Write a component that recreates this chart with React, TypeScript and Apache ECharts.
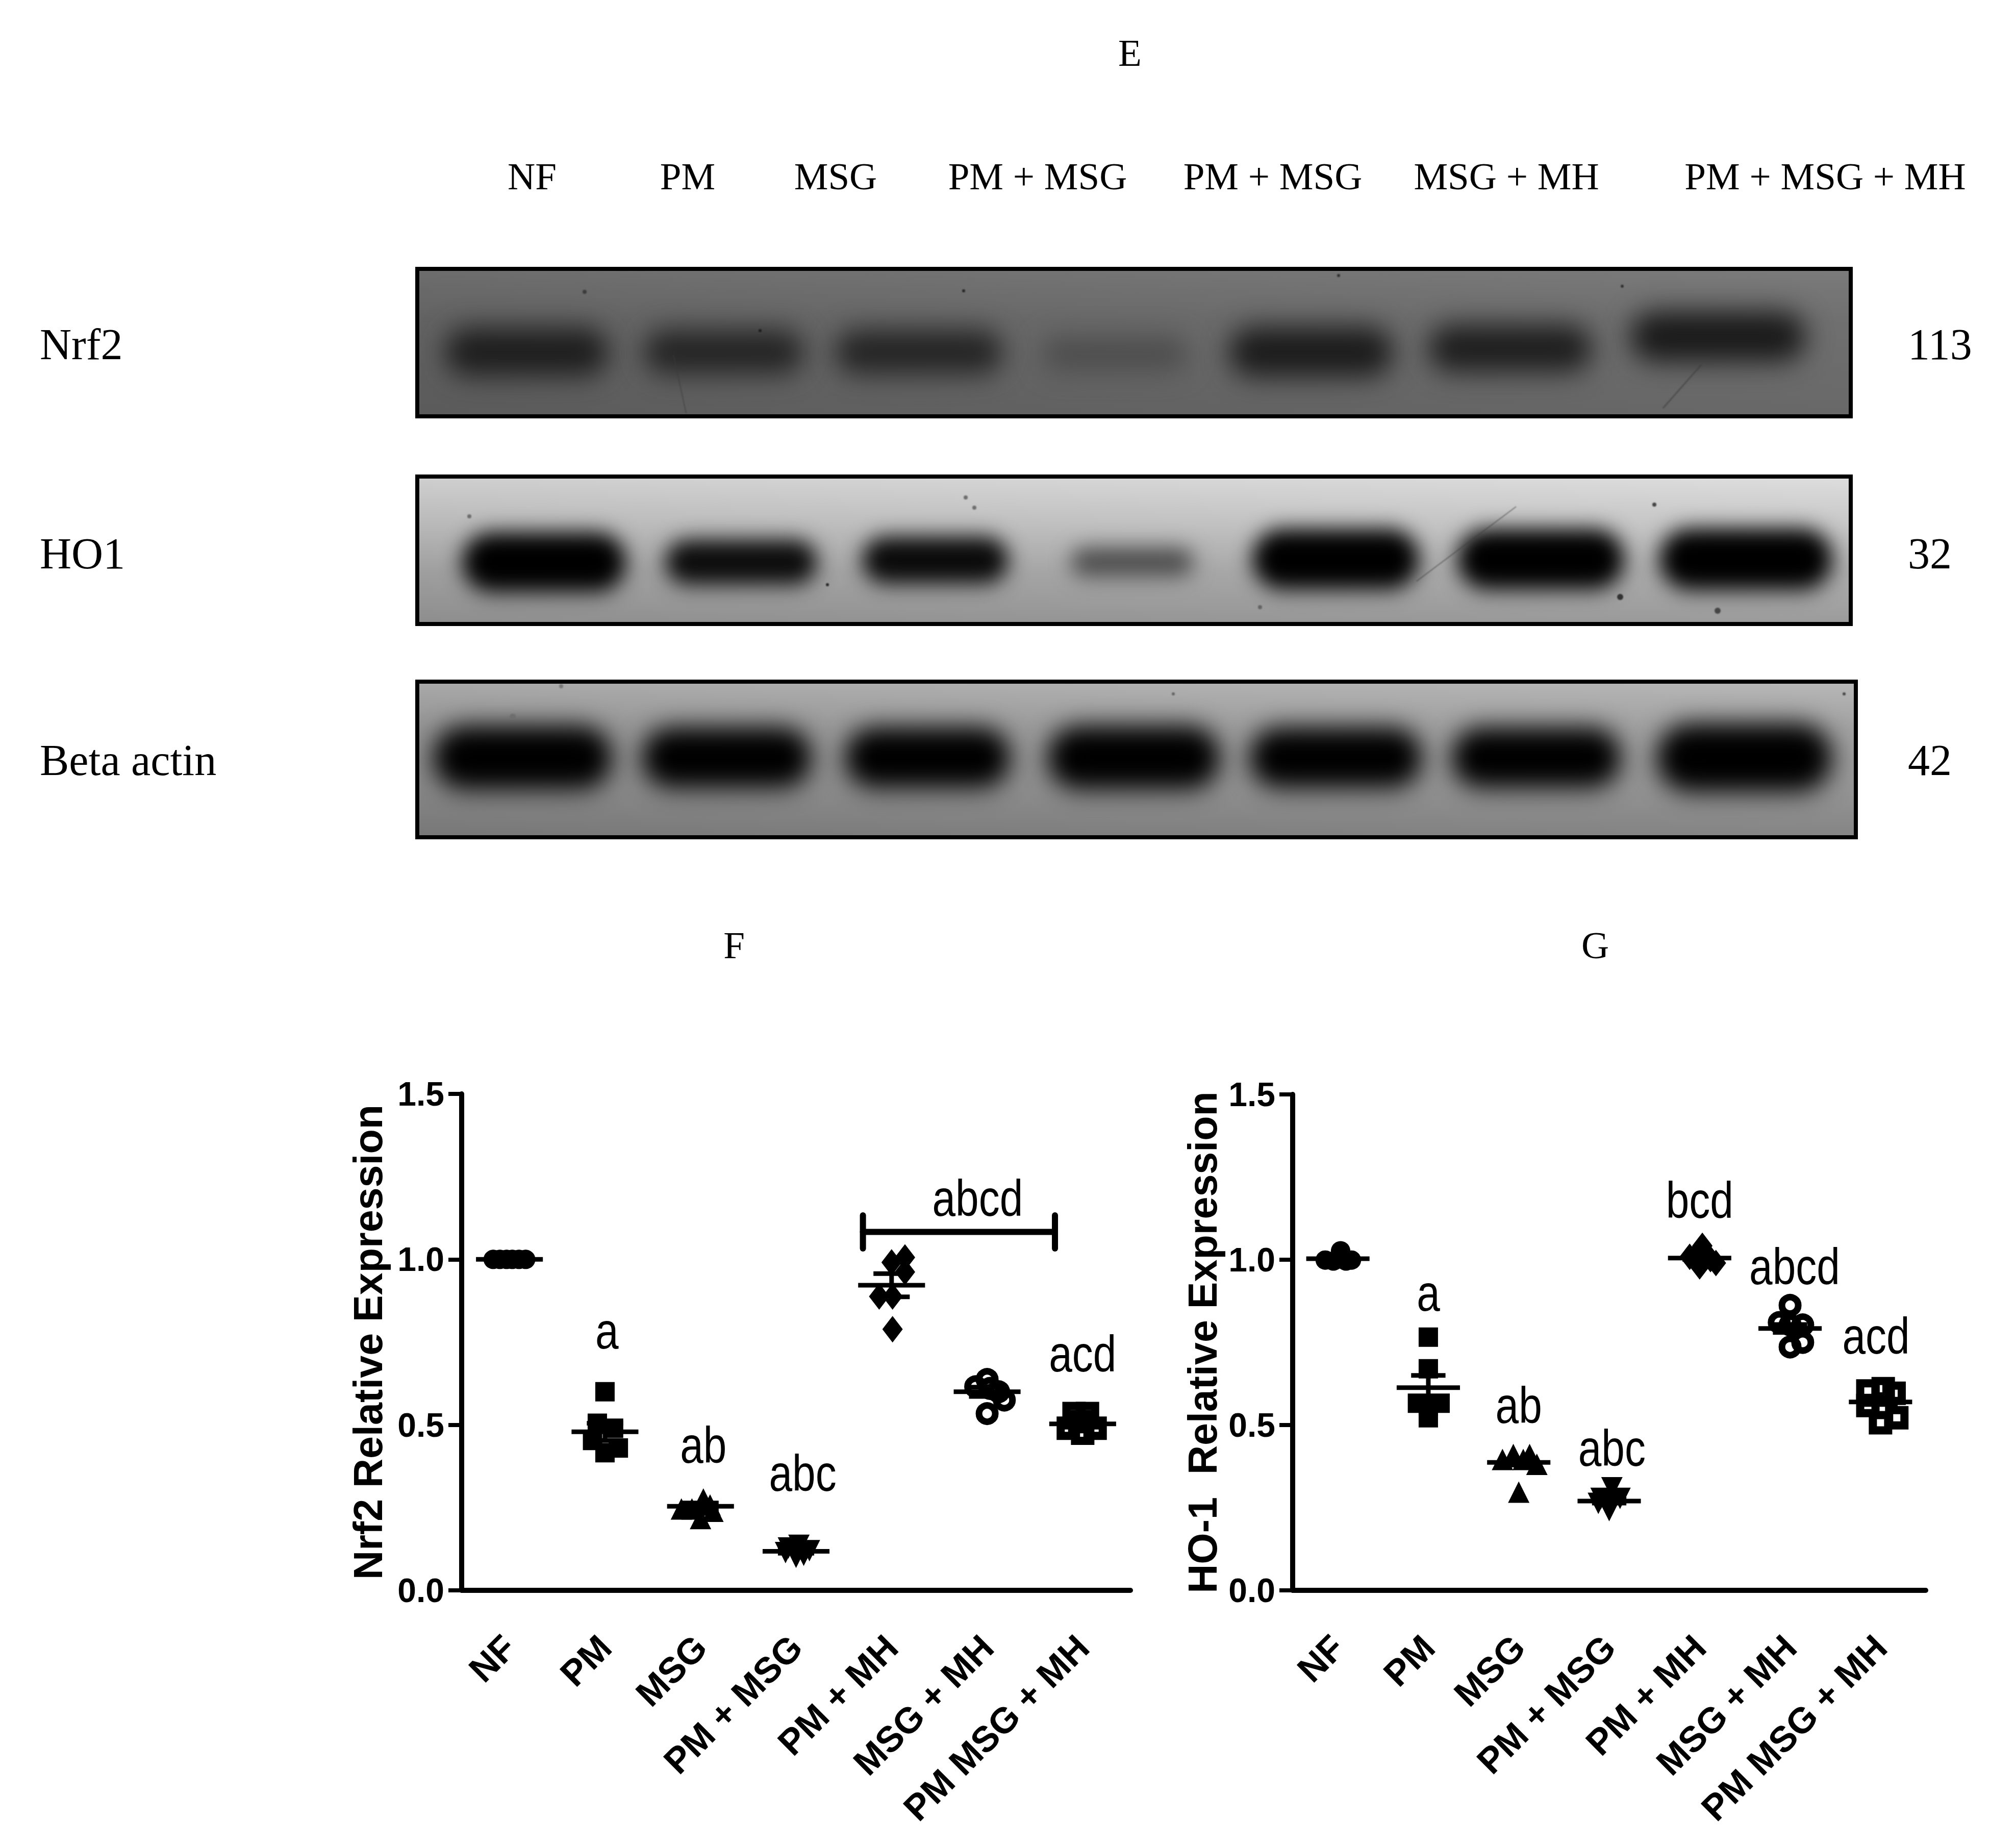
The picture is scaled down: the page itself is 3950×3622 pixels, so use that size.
import React, { useEffect, useRef } from "react";
import * as echarts from "echarts";

const categories = ["NF", "PM", "MSG", "PM + MSG", "PM + MH", "MSG + MH", "PM MSG + MH"];
const yTicks = [0, 0.5, 1, 1.5];

// Panel F : Nrf2
const nrf2Values = [
  [1, 1, 1, 1, 1, 1],
  [0.6, 0.505, 0.49, 0.453, 0.43, 0.416],
  [0.276, 0.246, 0.239, 0.246, 0.217, 0.258],
  [0.136, 0.128, 0.12, 0.1, 0.114, 0.106],
  [1.006, 0.991, 0.962, 0.888, 0.888, 0.789],
  [0.637, 0.615, 0.6, 0.61, 0.575, 0.534],
  [0.534, 0.534, 0.49, 0.49, 0.475, 0.51],
];
const nrf2Jitter = [
  [-0.17, -0.1, -0.03, 0.03, 0.1, 0.17],
  [0, -0.08, 0.09, -0.13, 0.14, 0],
  [0.03, -0.09, 0.13, -0.2, 0, 0.1],
  [0.03, -0.08, 0.14, 0, -0.11, 0.08],
  [0.14, 0, 0.14, -0.13, 0.01, 0.01],
  [0, -0.12, 0.12, 0.03, 0.18, 0],
  [-0.09, 0.05, -0.15, 0.13, 0, -0.03],
];
const nrf2Means = [1, 0.479, 0.254, 0.118, 0.922, 0.6, 0.503];
const nrf2Sem = [0, 0.026, 0.01, 0.006, 0.035, 0.014, 0.01];
const nrf2Letters = [
  [1.02, 0.785, "a"], [2.03, 0.44, "ab"], [3.07, 0.355, "abc"], [4.9, 1.185, "abcd"], [6, 0.715, "acd"],
];
const nrf2Bracket = [3.7, 5.71, 1.083, 0.05];

// Panel G : HO-1
const ho1Values = [
  [1.002, 0.999, 0.999, 1.027, 0.996, 0.996],
  [0.766, 0.67, 0.566, 0.566, 0.522, 0.558],
  [0.411, 0.411, 0.396, 0.396, 0.381, 0.297],
  [0.31, 0.278, 0.278, 0.241, 0.263, 0.263],
  [1.042, 1.009, 1.002, 0.98, 1.012, 0.99],
  [0.862, 0.81, 0.803, 0.803, 0.75, 0.736],
  [0.603, 0.61, 0.596, 0.559, 0.507, 0.522],
];
const ho1Jitter = [
  [0, -0.14, 0.15, 0.03, -0.05, 0.09],
  [0, 0, -0.12, 0.13, 0, 0],
  [-0.06, 0.12, -0.18, 0.05, 0.2, 0],
  [0.03, -0.09, 0.12, 0, -0.12, 0.03],
  [0.03, -0.11, 0.12, 0, -0.05, 0.18],
  [0, -0.12, 0, 0.14, 0.14, 0],
  [-0.14, 0.03, 0.15, -0.14, 0, 0.18],
];
const ho1Means = [1.003, 0.613, 0.387, 0.27, 1.005, 0.792, 0.57];
const ho1Sem = [0, 0.037, 0.008, 0.006, 0.004, 0.012, 0.008];
const ho1Letters = [
  [1, 0.9, "a"], [2, 0.56, "ab"], [3.03, 0.43, "abc"], [4, 1.18, "bcd"], [5.05, 0.98, "abcd"], [5.95, 0.77, "acd"],
];

// Western-blot rows, drawn into images. Each band: [left, right, centre y, height, grey]
const nrf2Bands = [
  [872, 1193, 690, 94, 30], [1262, 1576, 690, 86, 36], [1637, 1966, 690, 86, 36], [2042, 2329, 694, 64, 76],
  [2409, 2731, 690, 98, 28], [2800, 3121, 683, 92, 30], [3196, 3540, 660, 98, 26],
];
const ho1Bands = [
  [906, 1227, 1102, 116, 0], [1304, 1602, 1102, 88, 12], [1690, 1977, 1098, 92, 10], [2099, 2340, 1102, 56, 76],
  [2455, 2782, 1096, 118, 0], [2857, 3184, 1096, 118, 0], [3253, 3592, 1096, 120, 0],
];
const actinBands = [
  [849, 1200, 1485, 124, 0], [1258, 1591, 1485, 118, 0], [1656, 1981, 1485, 118, 0], [2053, 2392, 1485, 124, 0],
  [2449, 2788, 1485, 118, 0], [2845, 3178, 1485, 118, 0], [3247, 3592, 1485, 134, 0],
];
const specks = [
  [1146, 572, 4, 60], [1490, 648, 3, 30], [1889, 570, 3, 40], [2624, 540, 3, 50], [3176, 820, 4, 40], [3180, 561, 3, 50],
  [920, 1012, 4, 110], [1622, 1146, 3, 40], [1893, 975, 4, 110], [1910, 995, 4, 110], [3176, 1170, 6, 50], [3367, 1197, 6, 70],
  [3243, 989, 4, 70], [2470, 1190, 4, 100], [1005, 1405, 6, 110], [1100, 1345, 4, 120], [2300, 1360, 3, 100], [3615, 1360, 3, 70],
];
const scratches = [
  [2777, 1139, 2972, 993, 2, 60], [1320, 695, 1345, 810, 2, 60], [3260, 800, 3335, 715, 3, 60],
];

const SANS = "Liberation Sans";
const SERIF = "Liberation Serif";

function blotImage(x0: number, y0: number, w: number, h: number, stops: [number, string][], bands: number[][], blur: number) {
  const c = document.createElement("canvas");
  c.width = w;
  c.height = h;
  const g = c.getContext("2d")!;
  const lg = g.createLinearGradient(0, 0, 0, h);
  stops.forEach(([o, col]) => lg.addColorStop(o, col));
  g.fillStyle = lg;
  g.fillRect(0, 0, w, h);
  const hg = g.createLinearGradient(0, 0, w, 0);
  hg.addColorStop(0, "rgba(0,0,0,0.06)");
  hg.addColorStop(1, "rgba(255,255,255,0.05)");
  g.fillStyle = hg;
  g.fillRect(0, 0, w, h);
  g.filter = `blur(${blur}px)`;
  bands.forEach(([l, r, cy, bh, grey]) => {
    g.fillStyle = `rgb(${grey},${grey},${grey})`;
    g.beginPath();
    g.roundRect(l - x0, cy - y0 - bh / 2, r - l, bh, bh / 2);
    g.fill();
  });
  g.filter = "blur(1px)";
  specks.forEach(([sx, sy, r, grey]) => {
    if (sx < x0 || sx > x0 + w || sy < y0 || sy > y0 + h) return;
    g.fillStyle = `rgb(${grey},${grey},${grey})`;
    g.beginPath();
    g.arc(sx - x0, sy - y0, r, 0, Math.PI * 2);
    g.fill();
  });
  scratches.forEach(([a, b, cc, d, lw, grey]) => {
    if (b < y0 || b > y0 + h) return;
    g.strokeStyle = `rgba(${grey},${grey},${grey},0.55)`;
    g.lineWidth = lw;
    g.beginPath();
    g.moveTo(a - x0, b - y0);
    g.lineTo(cc - x0, d - y0);
    g.stroke();
  });
  return c.toDataURL("image/png");
}

const FRAMES = [
  { x: 818, y: 527, w: 2810, h: 289, stops: [[0, "#747474"], [0.35, "#686868"], [1, "#606060"]] as [number, string][], bands: nrf2Bands, blur: 26 },
  { x: 818, y: 934, w: 2810, h: 289, stops: [[0, "#dcdcdc"], [0.3, "#c6c6c6"], [0.65, "#a8a8a8"], [1, "#969696"]] as [number, string][], bands: ho1Bands, blur: 20 },
  { x: 818, y: 1336, w: 2820, h: 305, stops: [[0, "#b4b4b4"], [0.3, "#9c9c9c"], [0.7, "#8e8e8e"], [1, "#7e7e7e"]] as [number, string][], bands: actinBands, blur: 24 },
];

const plainTexts: [string, number, number][] = [
  ["E", 2215, 103], ["NF", 1043, 345], ["PM", 1348, 345], ["MSG", 1638, 345], ["PM + MSG", 2034, 345],
  ["PM + MSG", 2495, 345], ["MSG + MH", 2953, 345], ["PM + MSG + MH", 3578, 345], ["F", 1439, 1852], ["G", 3127, 1852],
];
const sideTexts: [string, number, number][] = [
  ["Nrf2", 78, 675], ["HO1", 78, 1085], ["Beta actin", 78, 1490], ["113", 3740, 675], ["32", 3740, 1085], ["42", 3740, 1490],
];

const symbols = ["circle", "rect", "triangle", "triangle", "diamond", "circle", "rect"];
const rotations = [0, 0, 0, 180, 0, 0, 0];
const sizes: (number | number[])[] = [38, 38, 42, 42, [40, 52], 32, 30];
const hollowBorders = [0, 0, 0, 0, 0, 13, 16];

function panelSeries(xVal: number, yIdx: number, values: number[][], jitter: number[][], means: number[], sem: number[], letters: any[], bracket?: number[]) {
  const out: any[] = [];
  values.forEach((vals, i) => {
    out.push({
      type: "scatter",
      xAxisIndex: xVal,
      yAxisIndex: yIdx,
      symbol: symbols[i],
      symbolRotate: rotations[i],
      symbolSize: sizes[i],
      itemStyle: hollowBorders[i]
        ? { color: "rgba(0,0,0,0)", borderColor: "#000", borderWidth: hollowBorders[i], opacity: 1 }
        : { color: "#000", opacity: 1 },
      data: vals.map((v, k) => [i + jitter[i][k], v]),
      silent: true,
    });
  });
  out.push({
    type: "custom",
    xAxisIndex: xVal,
    yAxisIndex: yIdx,
    clip: false,
    silent: true,
    data: means.map((m, i) => [i, m, sem[i]]),
    renderItem: (_: any, api: any) => {
      const x = api.value(0), m = api.value(1), s = api.value(2);
      const seg = (a: number, b: number, c: number, d: number) => {
        const p = api.coord([a, b]), q = api.coord([c, d]);
        return { type: "line", shape: { x1: p[0], y1: p[1], x2: q[0], y2: q[1] }, style: { stroke: "#000", lineWidth: 9 } };
      };
      const children: any[] = [seg(x - 0.35, m, x + 0.35, m)];
      if (s > 0) {
        children.push(seg(x, m - s, x, m + s), seg(x - 0.19, m + s, x + 0.19, m + s), seg(x - 0.19, m - s, x + 0.19, m - s));
      }
      return { type: "group", children };
    },
  });
  if (bracket) {
    out.push({
      type: "custom",
      xAxisIndex: xVal,
      yAxisIndex: yIdx,
      clip: false,
      silent: true,
      data: [bracket],
      renderItem: (_: any, api: any) => {
        const a = api.value(0), b = api.value(1), y = api.value(2), d = api.value(3);
        const seg = (p0: number[], p1: number[]) => {
          const p = api.coord(p0), q = api.coord(p1);
          return { type: "line", shape: { x1: p[0], y1: p[1], x2: q[0], y2: q[1] }, style: { stroke: "#000", lineWidth: 12, lineCap: "round" } };
        };
        return { type: "group", children: [seg([a, y], [b, y]), seg([a, y - d], [a, y + d]), seg([b, y - d], [b, y + d])] };
      },
    });
  }
  // significance letters: tall, condensed glyphs
  out.push({
    type: "custom",
    xAxisIndex: xVal,
    yAxisIndex: yIdx,
    clip: false,
    silent: true,
    data: letters,
    encode: { x: 0, y: 1 },
    renderItem: (params: any, api: any) => {
      const p = api.coord([api.value(0), api.value(1)]);
      return {
        type: "text",
        x: p[0],
        y: p[1],
        scaleX: 0.82,
        style: {
          text: letters[params.dataIndex][2],
          fontFamily: SANS,
          fontSize: 100,
          fill: "#000",
          align: "center",
          verticalAlign: "middle",
        },
      };
    },
  });
  return out;
}

function catAxis(grid: number) {
  return {
    type: "category",
    gridIndex: grid,
    data: categories,
    boundaryGap: true,
    axisLine: { lineStyle: { color: "#000", width: 10 } },
    axisTick: { alignWithLabel: true, length: 36, lineStyle: { color: "#000", width: 10 } },
    axisLabel: { interval: 0, rotate: 45, margin: 100, color: "#000", fontFamily: SANS, fontWeight: "bold", fontSize: 71 },
  };
}
function valX(grid: number) {
  return { type: "value", gridIndex: grid, min: -0.5, max: 6.5, show: false };
}
function valY(grid: number, name: string, gap: number) {
  return {
    type: "value",
    gridIndex: grid,
    min: yTicks[0],
    max: yTicks[yTicks.length - 1],
    interval: 0.5,
    name,
    nameLocation: "middle",
    nameGap: gap,
    nameRotate: 90,
    nameTextStyle: { color: "#000", fontFamily: SANS, fontWeight: "bold", fontSize: 79 },
    splitLine: { show: false },
    axisLine: { show: true, onZero: false, lineStyle: { color: "#000", width: 10 } },
    axisTick: { show: true, length: 26, lineStyle: { color: "#000", width: 8 } },
    axisLabel: { margin: 34, color: "#000", fontFamily: SANS, fontWeight: "bold", fontSize: 66, formatter: (v: number) => v.toFixed(1) },
  };
}

export default function App() {
  const ref = useRef<HTMLDivElement>(null);
  useEffect(() => {
    document.body.style.margin = "0";
    const chart = echarts.init(ref.current!, undefined, { renderer: "svg" });
    const graphic: any[] = [];
    FRAMES.forEach((f) => {
      graphic.push({
        type: "image",
        x: f.x,
        y: f.y,
        style: { image: blotImage(f.x, f.y, f.w, f.h, f.stops, f.bands, f.blur), x: 0, y: 0, width: f.w, height: f.h },
      });
      graphic.push({
        type: "rect",
        shape: { x: f.x, y: f.y, width: f.w, height: f.h },
        style: { fill: "none", stroke: "#000", lineWidth: 8 },
      });
    });
    plainTexts.forEach(([t, x, y]) =>
      graphic.push({ type: "text", x, y, style: { text: t, fontFamily: SERIF, fontSize: 75, fill: "#000", align: "center", verticalAlign: "middle" } })
    );
    sideTexts.forEach(([t, x, y]) =>
      graphic.push({ type: "text", x, y, style: { text: t, fontFamily: SERIF, fontSize: 86, fill: "#000", align: "left", verticalAlign: "middle" } })
    );
    chart.setOption({
      animation: false,
      backgroundColor: "#fff",
      graphic,
      grid: [
        { left: 905, top: 2144, width: 1311, height: 973 },
        { left: 2534, top: 2145, width: 1241, height: 972 },
      ],
      xAxis: [catAxis(0), valX(0), catAxis(1), valX(1)],
      yAxis: [valY(0, "Nrf2 Relative Expression", 144), valY(1, "HO-1  Relative Expression", 137)],
      series: [
        ...panelSeries(1, 0, nrf2Values, nrf2Jitter, nrf2Means, nrf2Sem, nrf2Letters, nrf2Bracket),
        ...panelSeries(3, 1, ho1Values, ho1Jitter, ho1Means, ho1Sem, ho1Letters),
      ],
    });
    return () => chart.dispose();
  }, []);
  return <div ref={ref} style={{ width: 3950, height: 3622 }} />;
}
